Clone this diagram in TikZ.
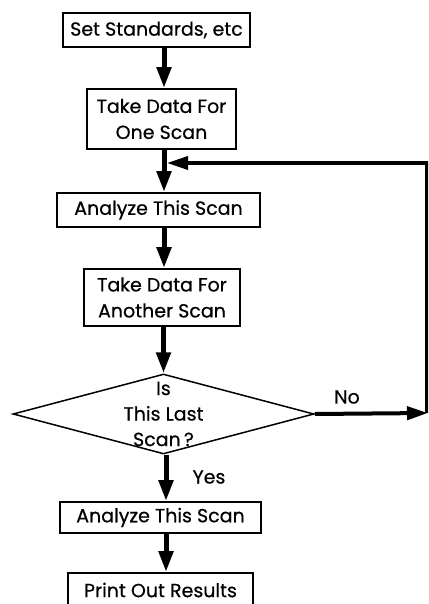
\documentclass[tikz,border=0pt]{standalone}
\usepackage{fontspec}
\setmainfont{Poppins}[FakeBold=0.5]
\usetikzlibrary{arrows.meta,shapes.geometric}
\begin{document}
\begin{tikzpicture}[x=1pt,y=-1pt,
  txt/.style={font=\fontsize{19}{26}\selectfont},
  box/.style={draw,line width=1.8pt,inner sep=0pt,align=center,txt},
  flow/.style={line width=5pt,-{Triangle[length=21pt,width=14pt]}},
  loopline/.style={line width=3.5pt},
]
\useasboundingbox (0,0) rectangle (428,604);
\clip (0,0) rectangle (428,604);
\coordinate (col) at (164,0);
\coordinate (col2) at (166,0);
\node[box,minimum width=187pt,minimum height=34pt] (b1) at (156.5,30) {Set Standards, etc};
\node[box,minimum width=149pt,minimum height=60pt] (b2) at (161.5,119) {Take Data For\\One Scan};
\node[box,minimum width=203pt,minimum height=34pt] (b3) at (158.5,210) {Analyze This Scan};
\node[box,minimum width=156pt,minimum height=57pt] (b4) at (162,297.5) {Take Data For\\Another Scan};
\node[draw,diamond,line width=1.5pt,inner sep=0pt,minimum width=301pt,minimum height=80pt] (dia) at (163.5,414) {};
\node[txt,align=center,font=\fontsize{19}{25.5}\selectfont] (dtext) at (dia.center) {Is\\This Last\\Scan\,?};
\node[box,minimum width=201pt,minimum height=31pt] (b5) at (160.5,517.5) {Analyze This Scan};
\node[draw,line width=1.8pt,minimum width=185pt,minimum height=44pt] (b6) at (160.5,595) {};
\node[txt] (b6text) at (160.5,590) {Print Out Results};
\node[txt] (no) at (347,397) {No};
\node[txt] (yes) at (209,477) {Yes};
\coordinate (noend) at (428,413);
\coordinate (corner) at (427,163);
\coordinate (loopin) at (167,163);
\draw[flow] (b1.south -| col) -- (b2.north -| col);
\draw[flow] (b2.south -| col) -- (b3.north -| col);
\draw[flow] (b3.south -| col) -- (b4.north -| col);
\draw[flow] (b4.south -| dia.north) -- (dia.north);
\draw[flow] (dia.south -| col2) -- (b5.north -| col2);
\draw[flow] (b5.south -| col2) -- (b6.north -| col2);
\draw[line width=4pt,-{Triangle[length=21pt,width=13pt]}] (dia.east) -- (noend);
\draw[loopline,-{Triangle[length=21pt,width=13pt]}] (noend -| corner) -- (corner) -- (loopin);
\end{tikzpicture}
\end{document}
